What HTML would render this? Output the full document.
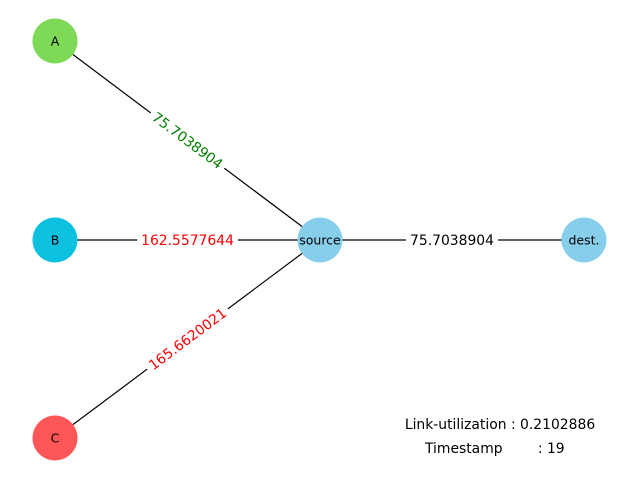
<!DOCTYPE html>
<html><head><meta charset="utf-8"><style>
html,body{margin:0;padding:0;background:#fff;}
svg{display:block;font-family:"DejaVu Sans","Liberation Sans",sans-serif;}
</style></head><body>
<svg id="chart" width="640" height="480" viewBox="0 0 640 480">
<g id="edges"></g><g id="labels"></g><g id="nodes"></g>
<text x="500" y="429" font-size="13.9" text-anchor="middle">Link-utilization : 0.2102886</text>
<text x="425" y="453" font-size="13.9" xml:space="preserve">Timestamp        : 19</text>
</svg>
<script>
const nodeNames = ["A","B","C","source","dest."];
const nodeX = [55,55,55,320,584];
const nodeY = [41,240,438,240,240];
const nodeColors = ["#7ed957","#0cc0df","#ff5757","#87ceeb","#87ceeb"];
const edgeFrom = [0,1,2,3];
const edgeTo = [3,3,3,4];
const edgeLabels = ["75.7038904","162.5577644","165.6620021","75.7038904"];
const edgeLabelColors = ["green","red","red","black"];
const NS="http://www.w3.org/2000/svg";
const eg=document.getElementById('edges'),lg=document.getElementById('labels'),ng=document.getElementById('nodes');
edgeFrom.forEach((f,i)=>{
  const t=edgeTo[i];
  const l=document.createElementNS(NS,'line');
  l.setAttribute('x1',nodeX[f]);l.setAttribute('y1',nodeY[f]);
  l.setAttribute('x2',nodeX[t]);l.setAttribute('y2',nodeY[t]);
  l.setAttribute('stroke','#000');l.setAttribute('stroke-width','1.2');
  
  
  eg.appendChild(l);
  const mx=(nodeX[f]+nodeX[t])/2,my=(nodeY[f]+nodeY[t])/2;
  let ang=Math.atan2(nodeY[t]-nodeY[f],nodeX[t]-nodeX[f])*180/Math.PI;
  if(ang>90)ang-=180; if(ang<-90)ang+=180;
  const g=document.createElementNS(NS,'g');
  g.setAttribute('transform','translate('+mx+','+my+') rotate('+ang+')');
  
  
  const txt=document.createElementNS(NS,'text');
  txt.setAttribute('text-anchor','middle');txt.setAttribute('dy','4.8');
  txt.setAttribute('font-size','13.9');txt.setAttribute('fill',edgeLabelColors[i]);
  txt.textContent=edgeLabels[i];
  const r=document.createElementNS(NS,'rect');
  const w=edgeLabels[i].length*8.8+4;
  r.setAttribute('x',-w/2);r.setAttribute('y',-9);r.setAttribute('width',w);r.setAttribute('height',18);
  r.setAttribute('fill','#fff');
  g.appendChild(r);g.appendChild(txt);lg.appendChild(g);
});
nodeNames.forEach((n,i)=>{
  const c=document.createElementNS(NS,'circle');
  c.setAttribute('cx',nodeX[i]);c.setAttribute('cy',nodeY[i]);c.setAttribute('r',22.5);
  c.setAttribute('fill',nodeColors[i]);
  
  
  ng.appendChild(c);
  const t=document.createElementNS(NS,'text');
  t.setAttribute('x',nodeX[i]);t.setAttribute('y',nodeY[i]+4.5);
  t.setAttribute('text-anchor','middle');t.setAttribute('font-size','12.5');
  t.textContent=n;
  
  
  ng.appendChild(t);
});
</script>
</body></html>
